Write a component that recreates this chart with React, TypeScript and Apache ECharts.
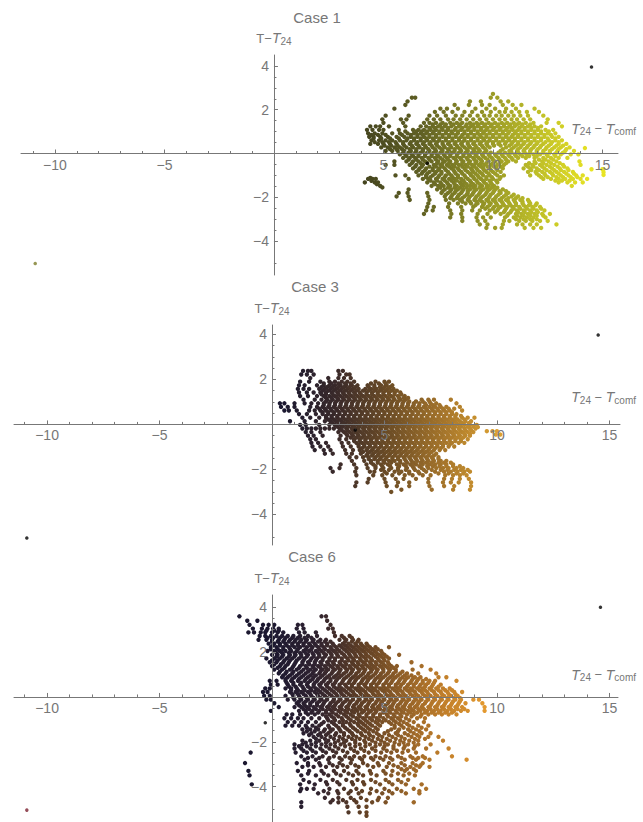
import React, { useEffect, useRef } from "react";
import * as echarts from "echarts";

// Each row: [y, x, x, x, ...].
const caseOneRows: number[][] = [
[2.72,10.0],
[2.55,6.3,6.45,9.9,10.2],
[2.38,6.1,8.95,9.45,10.35,10.7],
[2.22,6.0,8.25,8.9,9.5,9.85,10.45,10.9,11.3],
[2.05,5.5,7.6,7.9,8.4,9.2,9.7,10.1,10.6,11.05,11.9],
[1.9,7.35,7.75,8.15,8.7,9.05,9.5,9.9,10.3,10.55,10.85,11.2,11.55,12.1],
[1.73,5.1,6.15,7.1,7.45,7.85,8.3,8.6,8.95,9.3,9.6,9.85,10.15,10.4,10.7,10.95,11.25,11.6,12.3],
[1.56,4.95,5.8,6.05,7.0,7.3,7.6,7.95,8.2,8.5,8.8,9.1,9.4,9.7,10.0,10.3,10.55,10.85,11.1,11.4,11.7,12.5],
[1.4,5.0,5.9,6.85,7.1,7.4,7.7,8.05,8.35,8.6,8.95,9.25,9.5,9.8,10.1,10.4,10.65,10.95,11.2,11.5,11.85,12.45,13.0],
[1.24,4.4,4.65,4.85,5.25,6.0,6.7,6.95,7.25,7.5,7.8,8.1,8.45,8.75,9.0,9.3,9.6,9.9,10.2,10.5,10.75,11.0,11.3,11.6,11.9,12.2,13.15],
[1.08,4.25,4.5,4.8,5.0,5.7,6.35,6.6,6.85,7.15,7.4,7.7,7.95,8.25,8.55,8.85,9.15,9.45,9.7,10.0,10.3,10.6,10.9,11.15,11.45,11.75,12.05,12.4,12.75],
[0.92,4.3,4.6,4.95,5.4,5.75,6.1,6.4,6.7,6.95,7.25,7.55,7.85,8.15,8.4,8.7,9.0,9.3,9.55,9.85,10.15,10.45,10.7,11.0,11.3,11.6,11.9,12.2,12.5,12.85],
[0.76,4.35,4.55,4.85,5.2,5.6,5.95,6.25,6.55,6.85,7.1,7.4,7.7,8.0,8.3,8.55,8.85,9.15,9.45,9.7,10.0,10.3,10.6,10.85,11.15,11.45,11.75,12.05,12.35,12.7,13.0],
[0.6,4.45,4.8,5.1,5.4,5.75,6.05,6.4,6.7,7.0,7.3,7.55,7.85,8.15,8.45,8.7,9.0,9.3,9.6,9.85,10.15,10.45,10.75,11.0,11.3,11.6,11.9,12.2,12.55,12.85,13.15],
[0.44,4.4,4.75,5.0,5.3,5.6,5.9,6.2,6.5,6.8,7.1,7.4,7.7,7.95,8.25,8.55,8.85,9.1,9.4,9.7,10.0,10.25,10.55,10.85,11.15,11.4,11.7,12.0,12.3,12.65,13.0,13.35],
[0.28,4.9,5.2,5.5,5.75,6.05,6.35,6.65,6.95,7.25,7.55,7.8,8.1,8.4,8.7,8.95,9.25,9.55,9.85,10.6,10.95,11.25,11.55,11.85,12.15,12.45,12.8,13.1,13.5],
[0.12,5.1,5.4,5.65,5.95,6.25,6.5,6.8,7.1,7.4,7.7,8.0,8.25,8.55,8.85,9.15,9.4,9.7,10.35,10.75,11.1,11.4,11.7,12.0,12.3,12.6,12.95,13.3,13.7],
[-0.04,5.75,6.0,6.3,6.6,6.9,7.2,7.45,7.75,8.05,8.35,8.65,8.9,9.2,9.5,9.8,10.1,10.4,10.7,11.0,11.25,11.55,11.85,12.15,12.45,12.8,13.1,13.55,13.9],
[-0.2,5.9,6.2,6.45,6.75,7.05,7.35,7.6,7.9,8.2,8.5,8.8,9.1,9.35,9.65,9.95,10.25,10.55,10.85,11.15,11.5,11.9,12.3,12.65,13.0,13.4],
[-0.36,5.5,6.05,6.35,6.6,6.9,7.2,7.5,7.8,8.05,8.35,8.65,8.95,9.25,9.5,9.8,10.1,10.4,10.7,11.05,11.9,12.25,12.55,12.9,13.95],
[-0.52,5.1,5.5,6.2,6.5,6.8,7.3,7.6,7.9,8.15,8.45,8.75,9.05,9.35,9.6,9.9,10.2,10.5,11.5,11.8,12.15,12.45,12.8,13.2,14.0],
[-0.68,6.35,6.65,6.95,7.25,7.55,7.8,8.1,8.4,8.7,9.0,9.25,9.55,9.85,10.15,10.45,11.4,11.7,12.0,12.35,12.7,13.05,13.4],
[-0.84,6.5,6.8,7.1,7.4,7.65,7.95,8.25,8.55,8.85,9.1,9.4,9.7,10.0,10.35,11.6,11.95,12.25,12.6,12.9,13.25,13.65],
[-1.0,5.55,6.0,6.6,6.95,7.25,7.55,7.85,8.1,8.4,8.7,9.0,9.3,9.55,9.85,10.2,10.5,11.7,12.1,12.4,12.75,13.1,13.45,13.8,14.1],
[-1.16,4.3,4.5,4.65,6.15,6.8,7.05,7.4,7.7,8.0,8.25,8.55,8.85,9.15,9.45,9.7,10.0,10.3,12.3,12.65,13.0,13.3,13.65,14.0,14.3],
[-1.32,4.15,4.6,4.75,7.0,7.3,7.6,7.9,8.2,8.5,8.7,9.0,9.3,9.6,9.9,10.2,13.0,13.4,13.75,14.1],
[-1.48,4.85,7.2,7.5,7.75,8.05,8.35,8.65,8.95,9.2,9.5,9.8,10.05,13.6],
[-1.64,6.15,7.45,7.8,8.1,8.4,8.65,8.95,9.25,9.55,9.85,10.1,10.45],
[-1.8,5.7,6.1,7.0,7.65,7.95,8.25,8.55,8.85,9.1,9.4,9.7,10.0,10.35,10.7],
[-1.96,5.6,6.15,7.05,7.8,8.1,8.4,8.7,8.95,9.25,9.55,9.85,10.15,10.5,10.85,11.15],
[-2.12,6.2,7.1,7.85,8.2,8.5,8.85,9.15,9.4,9.7,10.0,10.3,10.6,10.95,11.25,11.6],
[-2.28,7.05,8.0,8.4,8.75,9.0,9.3,9.6,9.9,10.15,10.45,10.75,11.05,11.35,11.7,12.0],
[-2.44,7.0,7.3,7.95,8.55,9.1,9.5,9.75,10.05,10.35,10.65,10.9,11.2,11.5,11.8,12.15],
[-2.6,6.95,7.25,8.05,8.6,9.05,9.4,9.85,10.2,10.55,10.85,11.1,11.4,11.7,12.0,12.35],
[-2.76,6.85,8.1,8.55,9.3,9.75,10.35,10.7,11.05,11.3,11.6,11.9,12.25,12.6],
[-2.92,8.05,8.6,9.25,9.55,9.9,10.55,10.95,11.25,11.55,11.85,12.4],
[-3.08,8.6,9.3,9.65,10.5,10.75,11.2,11.5,11.8,12.15,12.5],
[-3.24,9.4,9.75,10.45,11.1,11.35,11.7,12.0,12.9],
[-3.4,9.7,10.1,10.4,11.45,11.85,12.2],
];
const caseOneFill: number[][] = [
[1.33,7.25,7.6,7.85,8.2,8.5,8.8,9.1,9.35,9.65,9.95,10.25,10.5,10.8,11.1,11.35,11.7],
[1.17,7.1,7.35,7.65,7.95,8.3,8.6,8.9,9.15,9.45,9.75,10.05,10.35,10.65,10.85,11.2,11.45,11.75,12.05],
[1.01,6.0,6.5,6.75,7.0,7.3,7.55,7.85,8.1,8.4,8.7,9.0,9.3,9.6,9.85,10.15,10.45,10.75,11.05,11.3,11.6,11.9,12.2,12.55],
[0.85,4.45,4.75,5.1,5.85,6.25,6.55,6.8,7.1,7.4,7.7,8.0,8.3,8.6,8.85,9.15,9.4,9.7,10.0,10.3,10.6,10.9,11.15,11.45,11.75,12.05,12.35,12.65],
[0.69,4.55,4.9,5.3,5.7,6.1,6.4,6.7,6.95,7.25,7.55,7.85,8.15,8.45,8.7,9.0,9.3,9.55,9.85,10.15,10.45,10.7,11.0,11.3,11.6,11.9,12.2,12.5,12.85],
[0.52,4.6,4.95,5.25,5.55,5.9,6.25,6.55,6.85,7.15,7.45,7.7,8.0,8.3,8.6,8.85,9.15,9.45,9.75,10.0,10.3,10.6,10.9,11.15,11.45,11.75,12.05,12.4,12.7,13.0],
[0.36,5.05,5.35,5.65,5.95,6.3,6.6,6.9,7.2,7.45,7.75,8.05,8.35,8.6,8.9,9.2,9.5,9.75,10.05,10.35,10.75,11.05,11.3,11.6,11.9,12.2,12.55,12.9,13.2],
[0.2,5.3,5.6,5.85,6.2,6.5,6.8,7.05,7.35,7.65,7.95,8.25,8.5,8.8,9.1,9.35,9.65,10.45,10.85,11.15,11.45,11.75,12.05,12.4,12.7,13.0,13.35],
[0.04,5.9,6.15,6.45,6.7,7.0,7.3,7.6,7.9,8.15,8.45,8.75,9.05,9.3,9.6,9.9,10.25,10.55,10.85,11.15,11.45,11.7,12.0,12.3,12.6,12.9,13.2],
[-0.12,6.05,6.35,6.6,6.9,7.2,7.5,7.8,8.05,8.35,8.65,8.95,9.25,9.55,9.85,10.15,10.45,10.75,11.05,11.35,11.65,12.0,12.5,12.85],
[-0.28,6.15,6.5,6.8,7.1,7.4,7.7,7.95,8.3,8.55,8.85,9.15,9.45,9.75,10.0,10.3,10.6,10.9,12.1,12.4,12.75],
[-0.44,6.3,6.7,7.0,7.45,7.7,8.0,8.3,8.6,8.9,9.2,9.45,9.7,10.0,10.3,10.6,11.65,11.95,12.3,12.65,13.05],
[-0.6,6.45,6.75,7.1,7.4,7.7,8.0,8.25,8.6,8.85,9.15,9.45,9.75,10.05,10.35,11.6,11.85,12.25,12.6,12.95,13.25],
[-0.76,6.6,6.9,7.25,7.5,7.85,8.2,8.45,8.75,9.05,9.3,9.6,9.9,10.2,11.75,12.1,12.45,12.8,13.1,13.45],
[-0.92,6.75,7.0,7.35,7.65,8.0,8.3,8.6,8.95,9.2,9.5,9.8,10.1,12.0,12.35,12.7,13.0,13.35,13.7],
[-1.08,6.95,7.15,7.5,7.8,8.15,8.4,8.75,9.1,9.35,9.7,9.95,10.35,12.2,12.5,12.9,13.2,13.55,13.85],
[-1.24,7.15,7.45,7.8,8.1,8.35,8.65,8.95,9.25,9.55,9.85,10.15,12.85,13.15,13.5],
[-1.4,7.35,7.65,7.95,8.25,8.55,8.8,9.1,9.4,9.7,9.95],
[-1.56,7.6,7.95,8.25,8.5,8.8,9.1,9.4,9.7,9.95,10.2],
[-1.72,7.7,8.05,8.3,8.6,8.85,9.15,9.45,9.75,10.05,10.3,10.6],
[-1.88,7.85,8.15,8.45,8.8,9.05,9.35,9.65,9.9,10.25,10.6,10.95],
[-2.04,8.05,8.35,8.6,8.9,9.2,9.45,9.8,10.1,10.4,10.7,11.05,11.35],
[-2.2,8.6,8.95,9.25,9.5,9.8,10.1,10.4,10.7,11.0,11.35,11.65],
[-2.36,9.2,9.55,9.85,10.2,10.5,10.8,11.05,11.4,11.65,11.95],
[-2.52,9.65,10.0,10.25,10.6,10.95,11.25,11.55,11.85,12.2],
[-2.68,10.1,10.5,10.8,11.15,11.45,11.75,12.05],
[-2.84,10.65,11.1,11.4,11.7,12.0,12.3],
[-3.0,11.05,11.4,11.7,12.0],
[-1.12,4.4],[-1.25,4.45],[-1.4,4.7],[-1.55,4.95],
[-0.98,15.05],[-0.86,15.05],[-0.72,14.5,15.0,15.05],[0.25,14.2],
];

const caseThreeRows: number[][] = [
[2.38,1.38,1.6,1.75,2.95,3.15],
[2.22,1.3,1.55,1.85,3.0,3.3,3.45],
[2.06,1.7,2.5,2.95,3.2,3.5],
[1.9,1.25,1.65,2.15,2.55,2.8,3.1,3.35,3.65,4.6,5.0,5.2],
[1.74,1.2,1.45,2.0,2.3,2.55,2.8,3.05,3.3,3.55,3.8,4.25,4.55,4.85,5.1,5.35],
[1.58,1.15,1.4,1.65,2.1,2.35,2.6,2.85,3.1,3.35,3.6,3.85,4.15,4.4,4.65,4.9,5.15,5.4],
[1.42,1.2,1.55,1.85,2.15,2.4,2.65,2.9,3.15,3.4,3.65,3.9,4.2,4.45,4.7,4.95,5.2,5.45,5.7],
[1.26,1.25,1.6,2.0,2.3,2.55,2.8,3.05,3.3,3.55,3.8,4.05,4.3,4.55,4.8,5.05,5.3,5.6,5.9],
[1.1,1.4,1.9,2.2,2.45,2.7,2.95,3.2,3.45,3.7,3.95,4.2,4.45,4.7,4.95,5.2,5.45,5.7,5.95,6.65,6.95,7.2,7.95],
[0.94,0.35,0.55,1.0,1.45,1.75,2.05,2.3,2.55,2.8,3.05,3.3,3.55,3.8,4.05,4.3,4.55,4.8,5.05,5.3,5.55,5.8,6.05,6.3,6.55,6.8,7.05,7.3,8.2],
[0.78,0.4,0.7,1.0,1.7,2.0,2.25,2.5,2.75,3.0,3.25,3.5,3.75,4.0,4.25,4.5,4.75,5.0,5.25,5.5,5.75,6.0,6.25,6.5,6.75,7.0,7.25,7.5,7.75,8.35],
[0.62,0.55,0.75,1.1,1.65,1.9,2.15,2.4,2.65,2.9,3.15,3.4,3.65,3.9,4.15,4.4,4.65,4.9,5.15,5.4,5.65,5.9,6.15,6.4,6.65,6.9,7.15,7.4,7.65,7.9,8.45],
[0.46,1.2,1.55,1.95,2.25,2.5,2.75,3.0,3.25,3.5,3.75,4.0,4.25,4.5,4.75,5.0,5.25,5.5,5.75,6.0,6.25,6.5,6.75,7.0,7.25,7.5,7.75,8.0,8.2],
[0.3,1.35,1.7,2.1,2.4,2.65,2.9,3.15,3.4,3.65,3.9,4.15,4.4,4.65,4.9,5.15,5.4,5.65,5.9,6.15,6.4,6.65,6.9,7.15,7.4,7.65,7.9,8.15,8.45,8.7],
[0.14,0.8,1.45,1.95,2.35,2.6,2.85,3.1,3.35,3.6,3.85,4.1,4.35,4.6,4.85,5.1,5.35,5.6,5.85,6.1,6.35,6.6,6.85,7.1,7.35,7.6,7.85,8.1,8.35,8.6,8.85],
[-0.02,1.25,1.5,2.1,2.55,2.8,3.05,3.3,3.55,3.8,4.05,4.3,4.55,4.8,5.05,5.3,5.55,5.8,6.05,6.3,6.55,6.8,7.05,7.3,7.55,7.8,8.05,8.3,8.55,8.8,9.1],
[-0.18,1.35,1.55,1.75,1.95,2.15,2.35,2.55,2.75,3.0,3.3,3.55,3.8,4.05,4.3,4.55,4.8,5.05,5.3,5.55,5.8,6.05,6.3,6.55,6.8,7.05,7.3,7.55,7.8,8.05,8.3,8.55,8.8,9.05],
[-0.34,1.5,1.75,2.15,2.95,3.2,3.45,3.7,3.95,4.2,4.45,4.7,4.95,5.2,5.45,5.7,5.95,6.2,6.45,6.7,6.95,7.2,7.45,7.7,7.95,8.2,8.45,8.7,8.95],
[-0.5,1.6,1.85,2.25,3.05,3.35,3.6,3.85,4.1,4.35,4.6,4.85,5.1,5.35,5.6,5.85,6.1,6.35,6.6,6.85,7.1,7.35,7.6,7.85,8.1,8.35,8.6,8.8],
[-0.66,1.7,1.95,3.0,3.3,3.65,3.9,4.15,4.4,4.65,4.9,5.15,5.4,5.65,5.9,6.15,6.4,6.65,6.9,7.15,7.4,7.65,7.9,8.15,8.4,8.7],
[-0.82,1.75,2.05,2.4,3.1,3.4,3.75,4.0,4.25,4.5,4.75,5.0,5.25,5.5,5.75,6.0,6.25,6.5,6.75,7.0,7.25,7.5,7.75,8.0,8.3,8.55],
[-0.98,1.8,2.15,2.5,3.15,3.5,3.85,4.1,4.35,4.6,4.85,5.1,5.35,5.6,5.85,6.1,6.35,6.6,6.85,7.1,7.35,7.6,7.85,8.1],
[-1.14,1.9,2.3,2.6,3.25,3.6,3.9,4.2,4.45,4.7,4.95,5.2,5.45,5.7,5.95,6.2,6.45,6.7,6.95,7.2,7.45,7.7],
[-1.3,2.35,2.7,3.3,3.55,3.95,4.25,4.5,4.75,5.0,5.25,5.5,5.75,6.0,6.25,6.5,6.75,7.0,7.3],
[-1.46,3.45,3.75,4.05,4.3,4.6,4.85,5.1,5.35,5.6,5.85,6.1,6.35,6.6,6.85,7.1,7.4],
[-1.62,3.55,4.1,4.4,4.7,4.95,5.2,5.45,5.7,5.95,6.2,6.45,6.7,6.95,7.2,7.5,7.75],
[-1.78,3.05,3.65,4.2,4.5,4.85,5.15,5.55,5.85,6.15,6.4,6.7,7.0,7.25,7.5,7.75,8.05],
[-1.94,2.6,3.0,3.75,4.25,4.6,4.95,5.3,5.6,6.0,6.3,6.65,6.95,7.3,7.6,7.85,8.2,8.5],
[-2.1,2.7,3.7,4.35,4.55,5.0,5.45,5.75,6.1,6.5,6.85,7.25,7.65,7.95,8.25,8.55,8.8],
[-2.26,3.75,4.5,4.9,5.35,5.9,6.25,6.7,7.05,7.7,8.05,8.35,8.65],
[-2.42,4.3,5.0,5.5,5.85,6.4,6.95,7.65,8.0,8.35,8.75],
[-2.58,3.75,4.25,5.05,5.6,6.1,6.95,7.6,7.95,8.3,8.85],
[-2.74,3.7,5.1,5.55,6.1,7.0,7.65,8.1,8.85],
[-2.9,5.75,7.1,8.05,8.8],
[-3.0,5.3],
];
const caseThreeFill: number[][] = [
[1.82,2.3,2.65,2.95,3.25,3.5,4.4,4.75,5.05],
[1.66,2.2,2.45,2.7,2.95,3.2,3.45,3.7,4.3,4.55,4.8,5.0,5.25],
[1.5,2.25,2.5,2.75,3.0,3.25,3.5,3.75,4.05,4.3,4.55,4.8,5.05,5.3,5.55],
[1.34,2.2,2.4,2.7,2.95,3.2,3.45,3.7,3.95,4.2,4.45,4.7,4.95,5.2,5.45,5.75],
[1.18,2.4,2.65,2.9,3.15,3.4,3.65,3.9,4.15,4.4,4.65,4.9,5.15,5.4,5.65,5.85,6.05],
[1.02,2.4,2.6,2.85,3.1,3.35,3.6,3.85,4.1,4.35,4.6,4.85,5.1,5.35,5.6,5.85,6.1,6.4,6.7,7.0],
[0.86,2.3,2.55,2.8,3.05,3.3,3.55,3.8,4.05,4.3,4.55,4.8,5.05,5.3,5.55,5.8,6.05,6.3,6.55,6.85,7.15,7.45],
[0.7,2.1,2.35,2.6,2.85,3.1,3.35,3.6,3.85,4.1,4.35,4.6,4.85,5.1,5.35,5.6,5.85,6.1,6.35,6.6,6.85,7.1,7.35,7.6,7.85,8.1],
[0.54,2.25,2.5,2.75,3.0,3.25,3.5,3.75,4.0,4.25,4.5,4.75,5.0,5.25,5.5,5.75,6.0,6.25,6.5,6.75,7.0,7.25,7.5,7.75,8.0],
[0.38,2.4,2.65,2.9,3.15,3.4,3.65,3.9,4.15,4.4,4.65,4.9,5.15,5.4,5.65,5.9,6.15,6.4,6.65,6.9,7.15,7.4,7.65,7.9,8.15,8.4],
[0.22,2.5,2.75,3.0,3.25,3.5,3.75,4.0,4.25,4.5,4.75,5.0,5.25,5.5,5.75,6.0,6.25,6.5,6.75,7.0,7.25,7.5,7.75,8.0,8.25,8.55],
[0.06,2.7,2.95,3.2,3.45,3.7,3.95,4.2,4.45,4.7,4.95,5.2,5.45,5.7,5.95,6.2,6.45,6.7,6.95,7.2,7.45,7.7,7.95,8.2,8.45,8.75],
[-0.1,2.9,3.15,3.4,3.65,3.9,4.15,4.4,4.65,4.9,5.15,5.4,5.65,5.9,6.15,6.4,6.65,6.9,7.15,7.4,7.65,7.9,8.15,8.4,8.7,8.95],
[-0.26,3.1,3.35,3.6,3.85,4.1,4.35,4.6,4.85,5.1,5.35,5.6,5.85,6.1,6.35,6.6,6.85,7.1,7.35,7.6,7.85,8.1,8.35,8.6,8.85],
[-0.42,3.3,3.55,3.8,4.05,4.3,4.55,4.8,5.05,5.3,5.55,5.8,6.05,6.3,6.55,6.8,7.05,7.3,7.55,7.8,8.05,8.3,8.55,8.8],
[-0.58,3.5,3.75,4.0,4.25,4.5,4.75,5.0,5.25,5.5,5.75,6.0,6.25,6.5,6.75,7.0,7.25,7.5,7.75,8.0,8.25,8.5],
[-0.74,3.65,3.9,4.15,4.4,4.65,4.9,5.15,5.4,5.65,5.9,6.15,6.4,6.65,6.9,7.15,7.4,7.65,7.9,8.15,8.4],
[-0.9,3.85,4.1,4.35,4.6,4.85,5.1,5.35,5.6,5.85,6.1,6.35,6.6,6.85,7.1,7.35,7.6,7.9],
[-1.06,4.0,4.25,4.5,4.75,5.0,5.25,5.5,5.75,6.0,6.25,6.5,6.75,7.0,7.25,7.5],
[-1.22,4.05,4.35,4.6,4.85,5.1,5.35,5.6,5.85,6.1,6.35,6.6,6.85,7.1],
[-1.38,4.2,4.45,4.7,4.95,5.2,5.45,5.7,5.95,6.2,6.45,6.7,6.95,7.2],
[-1.54,4.3,4.55,4.8,5.05,5.35,5.6,5.9,6.15,6.4,6.65,6.9,7.15,7.4],
[-1.7,4.4,4.7,5.0,5.3,5.7,6.0,6.3,6.6,6.85,7.1,7.4,7.65,7.95],
[-1.86,4.6,4.9,5.25,5.65,5.95,6.25,6.55,6.9,7.15,7.45,7.75,8.05,8.35],
[-2.02,4.85,5.2,5.6,5.95,6.35,6.75,7.1,7.5,7.8,8.1,8.4,8.7],
[-2.18,5.1,5.65,6.1,6.55,7.4,7.85,8.2,8.5],
[-0.3,9.55,9.8,10.0],[-0.45,9.95,10.15],[0.3,9.0],[-0.12,9.15],
];

const caseSixRows: number[][] = [
[3.6,-1.45,2.2,2.4],
[3.4,-1.1,-0.65,2.45],
[3.22,-1.0,-0.4,-0.15,0.1,1.15,1.35,2.6],
[3.05,-0.85,-0.45,-0.2,0.05,0.3,1.1,1.4,2.5,2.7],
[2.88,-1.05,-0.8,-0.5,-0.3,0.0,0.25,0.5,1.2,1.45,1.95,2.75],
[2.72,-0.55,-0.3,-0.05,0.2,0.45,0.7,0.95,1.25,1.6,2.0,2.8,3.1,3.45],
[2.55,-0.6,-0.25,0.0,0.3,0.55,0.8,1.05,1.3,1.55,1.85,2.15,2.4,3.0,3.3,3.6,3.85],
[2.38,-0.15,0.1,0.35,0.6,0.9,1.15,1.4,1.65,1.9,2.2,2.45,2.7,3.15,3.4,3.7,3.95,4.2],
[2.22,-0.05,0.2,0.5,0.75,1.0,1.25,1.55,1.8,2.05,2.3,2.6,2.85,3.1,3.35,3.6,3.85,4.1,4.35,4.6,5.2],
[2.05,-0.2,0.1,0.35,0.6,0.85,1.1,1.4,1.65,1.95,2.2,2.5,2.75,3.0,3.3,3.55,3.8,4.05,4.3,4.55,4.85],
[1.88,0.0,0.25,0.5,0.8,1.05,1.3,1.6,1.85,2.1,2.4,2.65,2.9,3.2,3.45,3.7,3.95,4.2,4.5,4.75,5.0,5.65],
[1.72,-0.25,0.1,0.35,0.65,0.9,1.2,1.45,1.75,2.0,2.25,2.55,2.8,3.1,3.35,3.6,3.9,4.15,4.4,4.7,4.95,5.2],
[1.55,-0.1,0.2,0.5,0.75,1.05,1.35,1.6,1.9,2.15,2.45,2.7,3.0,3.25,3.55,3.8,4.05,4.35,4.6,4.85,5.15,6.2],
[1.38,0.0,0.35,0.6,0.95,1.25,1.5,1.8,2.05,2.35,2.6,2.9,3.15,3.45,3.7,4.0,4.25,4.5,4.8,5.05,5.3,5.55,6.65],
[1.22,0.1,0.45,0.8,1.1,1.4,1.7,1.95,2.25,2.5,2.8,3.05,3.35,3.6,3.9,4.15,4.45,4.7,4.95,5.25,5.5,6.25,7.05],
[1.05,0.3,0.6,0.9,1.2,1.5,1.8,2.1,2.35,2.65,2.95,3.2,3.5,3.75,4.05,4.3,4.6,4.85,5.15,5.4,5.7,6.0,6.5,7.3],
[0.88,0.45,0.7,1.0,1.3,1.6,1.85,2.15,2.45,2.75,3.0,3.3,3.6,3.85,4.15,4.4,4.7,4.95,5.25,5.5,5.8,6.05,6.35,6.6,7.4,7.75],
[0.72,-0.1,0.2,0.6,0.85,1.15,1.45,1.7,2.0,2.3,2.6,2.85,3.15,3.45,3.7,4.0,4.25,4.55,4.8,5.1,5.35,5.65,5.9,6.2,6.45,6.7,7.0,7.25,8.2],
[0.55,-0.05,0.25,0.7,0.95,1.25,1.55,1.85,2.1,2.4,2.7,3.0,3.25,3.55,3.85,4.1,4.4,4.65,4.95,5.2,5.5,5.75,6.05,6.3,6.6,6.85,7.15,7.5],
[0.38,-0.3,-0.1,0.6,0.85,1.1,1.4,1.7,1.95,2.25,2.55,2.85,3.1,3.4,3.7,3.95,4.25,4.5,4.8,5.05,5.35,5.6,5.9,6.15,6.45,6.7,7.0,7.3,7.6,7.9],
[0.22,-0.4,-0.2,0.8,1.05,1.3,1.6,1.9,2.15,2.45,2.75,3.05,3.3,3.6,3.9,4.15,4.45,4.7,5.0,5.25,5.55,5.8,6.1,6.35,6.65,6.9,7.2,7.5,7.8,8.1,8.45],
[0.05,-0.35,-0.1,0.6,0.95,1.2,1.5,1.75,2.05,2.35,2.65,2.9,3.2,3.5,3.75,4.05,4.3,4.6,4.85,5.15,5.4,5.7,5.95,6.25,6.5,6.8,7.05,7.35,7.65,7.95,8.25],
[-0.12,-0.25,-0.05,0.7,1.0,1.3,1.6,1.9,2.2,2.45,2.75,3.05,3.35,3.6,3.9,4.2,4.45,4.75,5.0,5.3,5.55,5.85,6.1,6.4,6.65,6.95,7.25,7.55,7.85,8.15,8.4,8.95,9.2],
[-0.28,0.1,1.1,1.4,1.7,2.0,2.3,2.6,2.85,3.15,3.45,3.75,4.0,4.3,4.6,4.85,5.15,5.4,5.7,5.95,6.25,6.5,6.8,7.1,7.4,7.7,8.0,8.3,8.6,9.35],
[-0.45,0.3,1.0,1.3,1.55,1.85,2.15,2.45,2.7,3.0,3.3,3.6,3.85,4.15,4.45,4.7,5.0,5.25,5.55,5.8,6.1,6.35,6.65,6.95,7.25,7.55,7.85,8.15,8.45,9.45],
[-0.62,-0.05,1.2,1.5,1.8,2.1,2.4,2.65,2.95,3.25,3.55,3.8,4.1,4.4,4.65,4.95,5.2,5.5,5.75,6.05,6.3,6.6,6.9,7.2,7.5,7.8,8.1,8.4,8.7,9.45],
[-0.78,0.65,0.9,1.25,1.6,1.9,2.25,2.55,2.85,3.2,3.5,3.85,4.2,4.5,4.8,5.1,5.4,5.7,6.0,6.3,6.65,6.95,7.25,7.55,7.85,8.2],
[-0.95,0.55,0.85,1.15,1.4,1.75,2.1,2.45,2.75,3.1,3.4,3.75,4.05,4.35,4.65,4.95,5.3,5.6,5.95,6.45,6.8],
[-1.12,0.7,1.0,1.3,1.6,1.95,2.3,2.65,3.0,3.3,3.65,3.95,4.25,4.6,4.9,5.2,5.5,5.85,6.3,6.75],
[-1.28,0.6,0.9,1.2,1.5,1.8,2.1,2.5,2.85,3.15,3.5,3.85,4.15,4.45,4.8,5.45,5.75,6.1,6.5,6.95],
[-1.45,1.35,1.7,2.05,2.35,2.7,3.0,3.35,3.7,4.05,4.35,4.7,5.3,5.65,6.05,6.4,6.85],
[-1.62,1.4,1.75,2.15,2.5,2.85,3.2,3.55,3.95,4.3,4.65,5.0,5.5,5.9,6.3,6.65,7.05],
[-1.78,1.85,2.2,2.6,3.0,3.4,3.75,4.15,4.5,4.9,5.35,5.75,6.2,6.55,6.95,7.4],
[-1.95,1.35,1.7,2.1,2.5,2.95,3.3,3.7,4.1,4.45,4.85,5.25,5.7,6.1,6.5,7.6],
[-2.12,1.0,1.35,1.75,2.2,2.6,3.05,3.45,3.9,4.35,4.8,5.15,5.65,6.05,6.5,7.05],
[-2.3,1.0,1.3,1.7,2.15,2.55,2.95,3.5,3.95,4.45,4.95,5.4,5.85,6.3,6.85,7.85],
[-2.48,-0.95,1.05,1.55,1.95,2.4,2.85,3.35,3.8,4.3,4.85,5.3,5.8,6.4,7.35],
[-2.65,1.3,1.8,2.25,2.75,3.25,3.65,4.1,4.6,5.05,5.6,6.15,6.7,8.0],
[-2.8,1.45,1.95,2.5,3.1,3.55,4.0,4.5,4.95,5.35,5.9,6.4,7.0,8.65],
[-2.95,-1.2,1.1,1.6,2.1,2.55,3.0,3.5,4.05,4.7,5.2,5.75,6.25,6.7],
[-3.12,1.35,1.85,2.4,2.9,3.35,3.85,4.5,5.1,5.6,6.15,6.55,7.0],
[-3.3,-1.05,1.15,1.65,2.2,2.75,3.2,3.75,4.35,4.95,5.35,5.9,6.4],
[-3.5,-1.0,1.3,1.95,2.5,3.05,3.6,4.05,4.65,5.3,5.85,6.35],
[-3.7,1.4,2.15,2.7,3.3,3.8,4.4,5.05,5.6,6.05],
[-3.9,-0.9,1.25,1.9,2.45,3.0,3.6,4.1,4.8,5.35,5.95,6.65],
[-4.1,1.3,1.55,1.85,2.55,3.2,3.75,4.4,5.0,5.55,6.3,6.85],
[-4.3,2.05,2.5,2.95,3.4,3.85,4.35,4.9,5.35,5.95,6.55],
[-4.5,2.35,2.95,3.5,3.95,4.75,5.15],
[-4.7,1.3,2.6,2.95,3.3,3.75,4.45,5.05,6.3],
[-4.9,1.3,3.35,3.85,4.2],
[-5.15,3.4,3.9,4.2],
[-5.3,4.2],
];
const caseSixFill: number[][] = [
[2.96,-0.25,0.1,0.3],
[2.64,-0.2,0.05,0.35,0.6,0.9,1.15,1.45,1.75,3.2,3.55],
[2.47,0.0,0.25,0.5,0.75,1.0,1.25,1.5,1.8,2.05,2.35,2.6,3.25,3.55,3.8],
[2.3,0.05,0.35,0.65,0.9,1.15,1.4,1.7,1.95,2.2,2.45,2.75,3.0,3.25,3.5,3.75,4.0,4.25],
[2.13,-0.05,0.25,0.5,0.8,1.15,1.5,1.75,2.1,2.35,2.65,2.9,3.2,3.45,3.7,3.95,4.2,4.45,4.7],
[1.96,0.2,0.45,0.75,1.0,1.25,1.5,1.8,2.05,2.3,2.6,2.85,3.1,3.4,3.65,3.9,4.15,4.4,4.65,4.9],
[1.8,0.2,0.45,0.75,1.0,1.3,1.55,1.85,2.1,2.35,2.65,2.95,3.25,3.5,3.75,4.05,4.3,4.6,4.85,5.1],
[1.63,0.0,0.25,0.55,0.8,1.1,1.4,1.7,1.95,2.25,2.55,2.8,3.1,3.4,3.65,3.95,4.2,4.45,4.75,5.0],
[1.46,0.1,0.4,0.7,1.0,1.35,1.65,1.9,2.2,2.5,2.75,3.05,3.3,3.6,3.85,4.15,4.4,4.65,4.95,5.2],
[1.3,0.25,0.55,0.9,1.2,1.55,1.85,2.15,2.4,2.7,2.95,3.25,3.5,3.8,4.05,4.35,4.6,4.9,5.15,5.4],
[1.13,0.35,0.65,0.95,1.3,1.6,1.85,2.15,2.4,2.7,3.0,3.3,3.55,3.85,4.1,4.4,4.65,4.95,5.2,5.5,5.8],
[0.96,0.5,0.8,1.1,1.4,1.7,1.95,2.25,2.55,2.85,3.1,3.4,3.7,3.95,4.25,4.5,4.8,5.05,5.35,5.6,5.9,6.2],
[0.8,0.6,0.9,1.2,1.5,1.8,2.05,2.35,2.6,2.9,3.2,3.5,3.75,4.05,4.3,4.6,4.85,5.15,5.4,5.7,5.95,6.25,6.5,6.85],
[0.63,0.65,0.95,1.3,1.6,1.9,2.2,2.5,2.8,3.1,3.4,3.65,3.95,4.2,4.5,4.75,5.05,5.3,5.6,5.85,6.15,6.4,6.7,6.95,7.2],
[0.46,0.75,1.05,1.35,1.6,1.85,2.15,2.45,2.75,3.0,3.3,3.55,3.85,4.15,4.4,4.65,4.95,5.2,5.5,5.7,6.0,6.3,6.55,6.8,7.1,7.4],
[0.3,0.85,1.15,1.45,1.75,2.05,2.35,2.65,2.95,3.2,3.5,3.8,4.05,4.35,4.6,4.9,5.15,5.45,5.7,6.0,6.25,6.55,6.8,7.1,7.4,7.7,8.0],
[0.13,0.9,1.15,1.4,1.7,2.0,2.25,2.55,2.85,3.1,3.4,3.65,3.95,4.2,4.5,4.75,5.05,5.3,5.6,5.85,6.15,6.4,6.7,6.95,7.25,7.55,7.85,8.15],
[-0.04,0.95,1.25,1.55,1.85,2.15,2.45,2.75,3.0,3.3,3.6,3.85,4.15,4.4,4.7,4.95,5.25,5.5,5.8,6.05,6.35,6.6,6.9,7.2,7.5,7.8,8.1,8.35],
[-0.2,1.2,1.5,1.8,2.1,2.35,2.7,2.95,3.25,3.5,3.8,4.1,4.35,4.65,4.9,5.2,5.45,5.75,6.0,6.3,6.55,6.85,7.15,7.45,7.75,8.05,8.35],
[-0.37,1.2,1.45,1.7,2.0,2.25,2.55,2.8,3.1,3.4,3.65,3.95,4.25,4.5,4.8,5.05,5.35,5.6,5.9,6.15,6.45,6.7,7.05,7.35,7.65,7.95,8.25],
[-0.54,1.4,1.65,1.95,2.25,2.55,2.8,3.1,3.4,3.7,3.95,4.25,4.55,4.8,5.1,5.35,5.65,5.9,6.2,6.5,6.75,7.05,7.35,7.65,7.95,8.25,8.55],
[-0.7,1.5,1.75,2.05,2.4,2.7,3.05,3.35,3.65,4.0,4.3,4.6,4.95,5.25,5.55,5.85,6.15,6.45,6.8,7.1,7.4,7.7,8.0],
[-0.87,2.4,2.65,2.95,3.3,3.6,3.9,4.2,4.5,4.8,5.15,5.45,5.75,6.2,6.6],
[-1.04,2.5,2.8,3.15,3.5,3.85,4.15,4.45,4.75,5.05,5.4,5.7,6.1],
[-1.2,2.2,2.75,3.15,3.45,3.8,4.05,4.35,4.7,5.3,5.65,6.0],
[-1.37,1.55,1.95,2.55,2.95,3.25,3.6,3.95,4.25,4.6,5.45,5.85,6.25,6.65],
[-1.53,1.55,1.9,2.3,2.6,3.05,3.45,3.8,4.15,4.5,5.15,5.6,6.15,6.55],
[-1.7,1.65,2.05,2.4,2.8,3.2,3.6,4.0,4.35,4.75,5.2,5.6,6.05,6.45],
[-1.87,1.95,2.35,2.75,3.15,3.55,3.9,4.3,4.7,5.1,5.5,5.9,6.35,6.8],
[-2.04,1.5,1.95,2.4,2.8,3.2,3.7,4.15,4.6,5.0,5.45,5.85,6.3],
[-2.2,1.2,1.55,1.95,2.4,2.8,3.25,3.7,4.15,4.6,5.0,5.4,5.9,6.35],
[-2.4,1.4,1.8,2.25,2.7,3.15,3.65,4.1,4.6,5.1,5.55,6.05],
[-2.72,1.6,2.1,2.55,3.0,3.45,3.9,4.4,4.8,5.25,5.75,6.25,6.5,6.8],
[-3.05,1.6,2.15,2.7,3.15,3.7,4.25,4.75,5.4,5.9,6.4,6.6],
[-3.22,5.75,6.0,6.3],
[-3.42,1.6,2.3,2.85,3.4,3.85,4.4,5.05,5.6,6.1],
[-3.8,1.65,2.4,2.9,3.55,4.05,4.6,5.2,5.75],
[-4.2,1.25,2.3,2.9,3.5,4.0,4.65,5.2,5.75,6.55],
[-4.6,2.7,3.15,3.65,4.2,4.7],
];

const caseOneOutliers = [[14.5,3.95,"#000000"],[7.0,-0.45,"#000000"],[-10.9,-5.02,"#7c7c28"]];
const caseThreeOutliers = [[14.5,3.98,"#000000"],[-10.9,-5.05,"#000000"],[3.7,-0.25,"#000000"]];
const caseSixOutliers = [[14.6,4.0,"#000000"],[-10.9,-5.05,"#7a2030"],[-0.3,-1.15,"#000000"]];

const xMajorTicks = [-10,-5,5,10,15];
const yMajorTicks = [-4,-2,2,4];
const xMinorTicks = [-11,-9,-8,-7,-6,-4,-3,-2,-1,1,2,3,4,6,7,8,9,11,12,13,14];
const yMinorTicks = [-5,-3.5,-3,-2.5,-1.5,-1,-0.5,0.5,1,1.5,2.5,3,3.5];

const panelTitles = ["Case 1","Case 3","Case 6"];
const yNameRich = "{n|T−}{i|T}{s|24}";
const xNameRich = "{i|T}{s|24}{n| − }{i|T}{s|comf}";

const caseOneColors = ["#44441f","#5e5e24","#8e8e26","#bcbc28","#e8e424"];
const caseThreeColors = ["#1a1830","#3a2a2a","#6e4e26","#a5752b","#dda232"];
const caseSixColors = ["#1c1830","#2e2230","#5a3c26","#8e5e28","#c07e2a","#e49a30"];

const panels = [
  { left:21, top:55, width:597, height:220, x:[-11.55,15.71], y:[-5.55,4.5], rows:[...caseOneRows,...caseOneFill], outliers:caseOneOutliers, colors:caseOneColors, range:[4,14.5], title:[312,5], name:25 },
  { left:14, top:325, width:606, height:220, x:[-11.47,15.47], y:[-5.36,4.42], rows:[...caseThreeRows,...caseThreeFill], outliers:caseThreeOutliers, colors:caseThreeColors, range:[0.5,10], title:[310,274], name:27 },
  { left:14, top:595, width:604, height:227, x:[-11.47,15.38], y:[-5.58,4.55], rows:[...caseSixRows,...caseSixFill], outliers:caseSixOutliers, colors:caseSixColors, range:[0,9.5], title:[307,544], name:22 },
];

const GREY = "#777777";
const rich = {
  i:{fontStyle:"italic",fontFamily:"Liberation Sans",fontSize:14,color:GREY},
  n:{fontFamily:"Liberation Sans",fontSize:13,color:GREY},
  s:{fontFamily:"Liberation Sans",fontSize:10,color:GREY,verticalAlign:"bottom",padding:[6,0,0,0]},
};
const pairs = (rows:number[][]) => rows.flatMap(r => r.slice(1).map(x => [x,r[0]]));
const fmt = (v:number) => String(v).replace("-","−");

export default function App(){
  const ref = useRef<HTMLDivElement>(null);
  useEffect(()=>{
    const chart = echarts.init(ref.current!, null, {renderer:"svg"});
    const grid:any[]=[], xAxis:any[]=[], yAxis:any[]=[], series:any[]=[], visualMap:any[]=[], title:any[]=[];
    panels.forEach((p,i)=>{
      grid.push({left:p.left,top:p.top,width:p.width,height:p.height});
      const xOffset = -((0-p.y[0])/(p.y[1]-p.y[0]))*p.height;
      const yOffset = -((0-p.x[0])/(p.x[1]-p.x[0]))*p.width;
      xAxis.push({
        type:"value",gridIndex:i,position:"bottom",offset:xOffset,min:p.x[0],max:p.x[1],z:5,splitLine:{show:false},
        axisLine:{onZero:false,lineStyle:{color:GREY,width:1}},
        axisTick:{show:true,inside:true,length:4,lineStyle:{color:GREY},customValues:xMajorTicks},
        axisLabel:{show:true,customValues:xMajorTicks,formatter:fmt,color:GREY,fontSize:14,fontFamily:"Liberation Sans",margin:4},
        name:xNameRich,nameLocation:"end",nameGap:18-(p.left+p.width-618),
        nameTextStyle:{rich,align:"right",verticalAlign:"bottom",padding:[0,0,p.name-8,0]},
      });
      xAxis.push({
        type:"value",gridIndex:i,position:"bottom",offset:xOffset,min:p.x[0],max:p.x[1],z:5,splitLine:{show:false},
        axisLine:{show:false,onZero:false},
        axisTick:{show:true,inside:true,length:2.5,lineStyle:{color:GREY},customValues:xMinorTicks},
        axisLabel:{show:false},
      });
      yAxis.push({
        type:"value",gridIndex:i,position:"left",offset:yOffset,min:p.y[0],max:p.y[1],z:5,splitLine:{show:false},
        axisLine:{onZero:false,lineStyle:{color:GREY,width:1}},
        axisTick:{show:true,inside:true,length:4,lineStyle:{color:GREY},customValues:yMajorTicks},
        axisLabel:{show:true,customValues:yMajorTicks,formatter:fmt,color:GREY,fontSize:14,fontFamily:"Liberation Sans",margin:5},
        name:yNameRich,nameLocation:"end",nameGap:9,
        nameTextStyle:{rich,align:"center"},
      });
      yAxis.push({
        type:"value",gridIndex:i,position:"left",offset:yOffset,min:p.y[0],max:p.y[1],z:5,splitLine:{show:false},
        axisLine:{show:false,onZero:false},
        axisTick:{show:true,inside:true,length:2.5,lineStyle:{color:GREY},customValues:yMinorTicks},
        axisLabel:{show:false},
      });
      const cloudIndex=series.length;
      series.push({type:"scatter",xAxisIndex:i*2,yAxisIndex:i*2,data:pairs(p.rows),symbolSize:4.4,z:2,itemStyle:{opacity:1}});
      series.push({type:"scatter",xAxisIndex:i*2,yAxisIndex:i*2,symbolSize:3.5,z:3,
        data:p.outliers.map(o=>({value:[o[0],o[1]],itemStyle:{color:o[2] as string}}))});
      visualMap.push({type:"continuous",show:false,seriesIndex:cloudIndex,dimension:0,min:p.range[0],max:p.range[1],inRange:{color:p.colors}});
      title.push({text:panelTitles[i],left:p.title[0],top:p.title[1],textAlign:"center",
        textStyle:{color:GREY,fontSize:15,fontWeight:"normal",fontFamily:"Liberation Sans"}});
    });
    chart.setOption({animation:false,backgroundColor:"#ffffff",grid,xAxis,yAxis,series,visualMap,title});
    return ()=>chart.dispose();
  },[]);
  return <div ref={ref} style={{position:"absolute",left:0,top:0,width:643,height:822}}/>;
}
